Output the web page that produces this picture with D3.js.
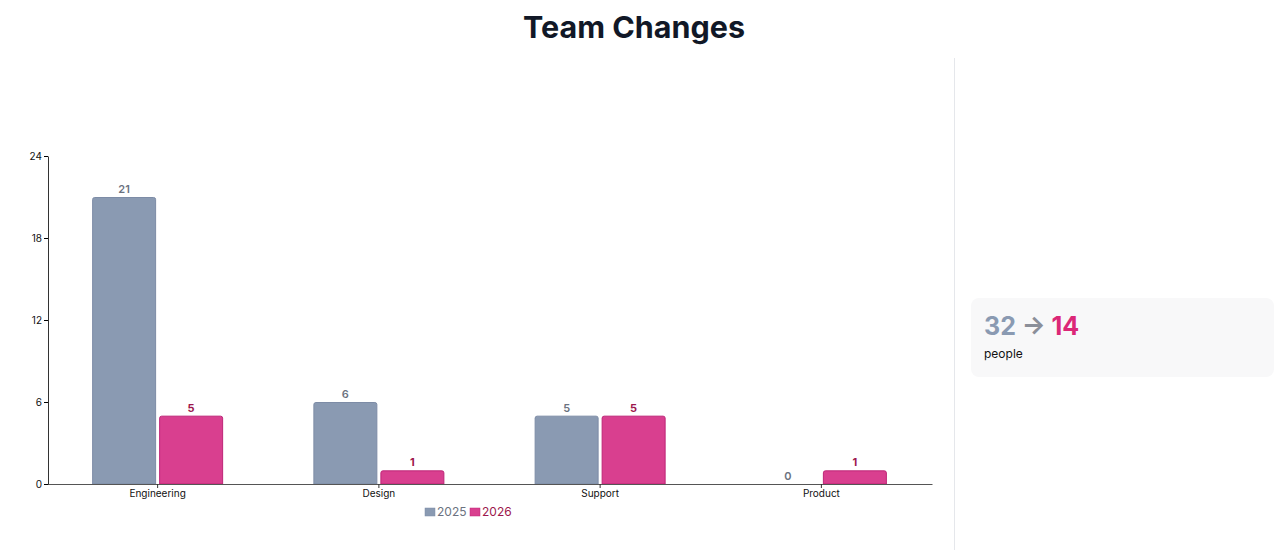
<!DOCTYPE html>
<html>
<head>
<meta charset="utf-8">
<script src="https://cdn.jsdelivr.net/npm/d3@7"></script>
<style>
  body { margin: 0; background: #fff; font-family: Inter, "Noto Sans", sans-serif; }
  svg { display: block; }
</style>
</head>
<body>
<div id="chart"></div>
<script>
const categories = ["Engineering", "Design", "Support", "Product"];
const seriesNames = ["2025", "2026"];
const values2025 = [21, 6, 5, 0];
const values2026 = [5, 1, 5, 1];
const yTicks = [0, 6, 12, 18, 24];
const totals = [32, 14];
const unitLabel = "people";

const fill = { "2025": "#8a9ab2", "2026": "#d93f8f" };
const stroke = { "2025": "#7d8ca6", "2026": "#be2577" };
const labelColor = { "2025": "#6b7280", "2026": "#9d174d" };

const W = 1280, H = 550;
const margin = { top: 156, left: 48, right: 347, bottom: 66 };

const svg = d3.select("#chart").append("svg")
  .attr("width", W)
  .attr("height", H);

svg.append("text")
  .attr("x", 634)
  .attr("y", 38)
  .attr("text-anchor", "middle")
  .attr("font-size", 30.5)
  .attr("font-weight", 700)
  .attr("fill", "#111827")
  .text("Team Changes");

// divider between chart and summary
svg.append("line")
  .attr("x1", 954.5).attr("x2", 954.5)
  .attr("y1", 58).attr("y2", H)
  .attr("stroke", "#e5e7eb");

const data = categories.map((c, i) => ({
  category: c,
  values: [
    { key: "2025", value: values2025[i] },
    { key: "2026", value: values2026[i] }
  ]
}));

const x0 = d3.scaleBand()
  .domain(categories)
  .range([47, 932]);

const groupW = 131;
const x1 = d3.scaleBand()
  .domain(seriesNames)
  .range([0, groupW])
  .paddingInner(0.045);

const y = d3.scaleLinear()
  .domain([0, d3.max(yTicks)])
  .range([484, margin.top]);

const g = svg.append("g");

const groups = g.selectAll("g.group")
  .data(data)
  .join("g")
  .attr("class", "group")
  .attr("transform", d => `translate(${x0(d.category) + x0.bandwidth() / 2 - groupW / 2},0)`);

groups.selectAll("path.bar")
  .data(d => d.values.filter(v => v.value > 0))
  .join("path")
  .attr("class", "bar")
  .attr("fill", d => fill[d.key])
  .attr("stroke", d => stroke[d.key])
  .attr("stroke-width", 1)
  .attr("d", d => {
    const x = x1(d.key) + 0.5, w = x1.bandwidth() - 1;
    const top = y(d.value) + 0.5, bot = y(0);
    const r = 2;
    return `M${x},${bot} V${top + r} Q${x},${top} ${x + r},${top} H${x + w - r} Q${x + w},${top} ${x + w},${top + r} V${bot} Z`;
  });

groups.selectAll("text.val")
  .data(d => d.values)
  .join("text")
  .attr("class", "val")
  .attr("x", d => x1(d.key) + x1.bandwidth() / 2)
  .attr("y", d => y(d.value) - 4)
  .attr("text-anchor", "middle")
  .attr("font-size", 11)
  .attr("font-weight", d => d.key === "2026" ? 700 : 600)
  .attr("fill", d => labelColor[d.key])
  .text(d => d.value);

const xAxis = svg.append("g")
  .attr("transform", "translate(0,484)")
  .call(d3.axisBottom(x0).tickSize(4).tickPadding(2).tickSizeOuter(0));
xAxis.selectAll("text").attr("font-size", 10).attr("fill", "#111").attr("font-family", "Inter, sans-serif");
xAxis.select(".domain").attr("stroke", "#555");
xAxis.selectAll(".tick line").attr("stroke", "#333");

const yAxis = svg.append("g")
  .attr("transform", `translate(${margin.left},0)`)
  .call(d3.axisLeft(y).tickValues(yTicks).tickSize(4).tickPadding(2).tickSizeOuter(0));
yAxis.selectAll("text").attr("font-size", 10).attr("fill", "#111").attr("font-family", "Inter, sans-serif");
yAxis.select(".domain").attr("stroke", "#333");

// legend
const legend = svg.append("g").attr("transform", "translate(425,512)");
let lx = 0;
seriesNames.forEach(s => {
  legend.append("rect")
    .attr("x", lx).attr("y", -4)
    .attr("width", 10).attr("height", 8)
    .attr("fill", fill[s]).attr("stroke", stroke[s]).attr("stroke-width", 0.5);
  legend.append("text")
    .attr("x", lx + 12).attr("y", 4)
    .attr("font-size", 12)
    .attr("fill", labelColor[s])
    .text(s);
  lx += 45;
});

// summary card
const card = svg.append("g").attr("transform", "translate(971,298)");
card.append("rect")
  .attr("width", 303).attr("height", 79)
  .attr("rx", 8)
  .attr("fill", "#f8f8f9");
const big = card.append("text")
  .attr("x", 13).attr("y", 37)
  .attr("font-size", 25)
  .attr("font-weight", 700);
big.append("tspan").attr("fill", fill["2025"]).text(totals[0]);
big.append("tspan").attr("fill", "#8b8f99").text(" \u2192 ");
big.append("tspan").attr("fill", "#db2777").text(totals[1]);
card.append("text")
  .attr("x", 13).attr("y", 60)
  .attr("font-size", 12)
  .attr("fill", "#111")
  .text(unitLabel);
</script>
</body>
</html>
